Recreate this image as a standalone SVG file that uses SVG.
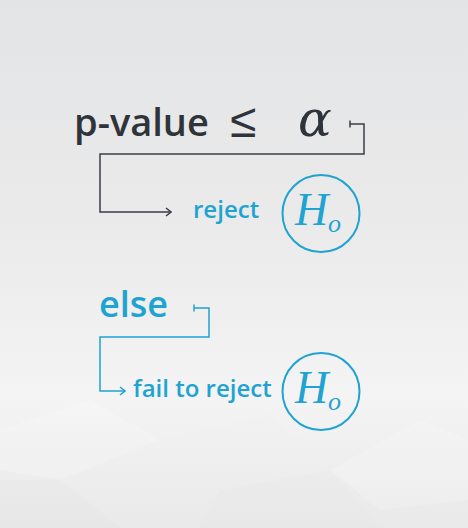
<svg xmlns="http://www.w3.org/2000/svg" width="468" height="528" viewBox="0 0 468 528">
  <defs>
    <linearGradient id="bg" x1="0" y1="0" x2="0" y2="1">
      <stop offset="0" stop-color="#e3e4e5"/>
      <stop offset="0.45" stop-color="#ebebec"/>
      <stop offset="0.75" stop-color="#f4f4f5"/>
      <stop offset="1" stop-color="#e9e9ea"/>
    </linearGradient>
    <marker id="arrDark" viewBox="0 0 10 10" refX="9" refY="5" markerWidth="10" markerHeight="10" markerUnits="userSpaceOnUse" orient="auto">
      <path d="M4 1 L9 5 L4 9" fill="none" stroke="#3a3f44" stroke-width="1.5"/>
    </marker>
    <marker id="arrBlue" viewBox="0 0 10 10" refX="9" refY="5" markerWidth="10" markerHeight="10" markerUnits="userSpaceOnUse" orient="auto">
      <path d="M4 1 L9 5 L4 9" fill="none" stroke="#1fa3d0" stroke-width="1.5"/>
    </marker>
    <style>
      .sans { font-family: "Open Sans", "Liberation Sans", sans-serif; font-weight: 600; }
      .dark { fill: #2e3439; }
      .blue { fill: #1fa3d0; }
      .math { font-family: "Liberation Serif", "DejaVu Serif", serif; font-style: italic; }
      .ring { fill: none; stroke: #1fa3d0; stroke-width: 2; }
      .ldark { fill: none; stroke: #3a3f44; stroke-width: 1.5; }
      .lblue { fill: none; stroke: #1fa3d0; stroke-width: 1.5; }
    </style>
  </defs>
  <rect x="0" y="0" width="468" height="528" fill="url(#bg)"/>
  <g opacity="0.18">
    <polygon points="0,430 90,400 160,440 60,480 0,470" fill="#ffffff"/>
    <polygon points="160,440 270,415 330,470 220,490" fill="#f0f0f1"/>
    <polygon points="330,470 420,420 468,440 468,500 380,510" fill="#ffffff"/>
    <polygon points="0,480 60,480 120,528 0,528" fill="#e2e2e3"/>
    <polygon points="220,490 330,470 380,528 200,528" fill="#e6e6e7"/>
  </g>

  <g id="condition">
    <text class="sans dark" x="74" y="136" font-size="38">p-value</text>
    <text class="dark" x="230" y="137" font-size="48" font-family="DejaVu Sans, sans-serif" font-weight="300">≤</text>
    <text class="dark" x="298" y="136" font-size="50" font-family="DejaVu Serif, serif" font-style="italic">α</text>
  </g>

  <g id="reject">
    <text class="sans blue" x="193" y="218" font-size="24">reject</text>
  </g>
  <g id="h0-reject">
    <circle class="ring" cx="321" cy="213.5" r="38.5"/>
    <text class="math blue" x="295" y="225" font-size="46">H</text>
    <text class="math blue" x="328" y="232" font-size="26">o</text>
  </g>

  <g id="else">
    <text class="sans blue" x="99" y="317" font-size="36">else</text>
  </g>

  <g id="fail">
    <text class="sans blue" x="133" y="397" font-size="24">fail to reject</text>
  </g>
  <g id="h0-fail">
    <circle class="ring" cx="321" cy="391.5" r="38.5"/>
    <text class="math blue" x="295" y="403" font-size="46">H</text>
    <text class="math blue" x="328" y="410" font-size="26">o</text>
  </g>

  <g id="connectors">
    <path class="ldark" d="M350 120.5 V127.5"/>
    <path class="ldark" d="M350 124 H364 V154 H100 V212 H171" marker-end="url(#arrDark)"/>
    <path class="lblue" d="M194 304.5 V311.5"/>
    <path class="lblue" d="M194 308 H209 V337 H100 V391 H125" marker-end="url(#arrBlue)"/>
  </g>
</svg>
